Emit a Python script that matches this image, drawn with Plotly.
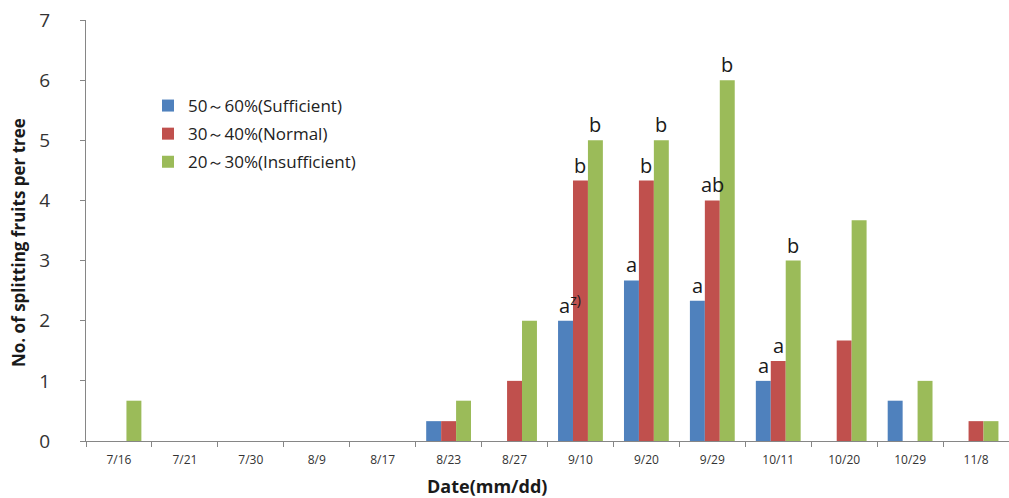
import plotly.graph_objects as go

dates = ["7/16", "7/21", "7/30", "8/9", "8/17", "8/23", "8/27", "9/10", "9/20", "9/29", "10/11", "10/20", "10/29", "11/8"]
sufficient = [0, 0, 0, 0, 0, 0.33, 0, 2.0, 2.67, 2.33, 1.0, 0, 0.67, 0]
normal = [0, 0, 0, 0, 0, 0.33, 1.0, 4.33, 4.33, 4.0, 1.33, 1.67, 0, 0.33]
insufficient = [0.67, 0, 0, 0, 0, 0.67, 2.0, 5.0, 5.0, 6.0, 3.0, 3.67, 1.0, 0.33]
names = ["50～60%(Sufficient)", "30～40%(Normal)", "20～30%(Insufficient)"]
colors = ["#4F81BD", "#C0504D", "#9BBB59"]

# significance letters: (date, series index, label)
letters = [
    ("9/10", 0, "a<sup>z)</sup>"), ("9/10", 1, "b"), ("9/10", 2, "b"),
    ("9/20", 0, "a"), ("9/20", 1, "b"), ("9/20", 2, "b"),
    ("9/29", 0, "a"), ("9/29", 1, "ab"), ("9/29", 2, "b"),
    ("10/11", 0, "a"), ("10/11", 1, "a"), ("10/11", 2, "b"),
]

series = [sufficient, normal, insufficient]
fig = go.Figure()
for i, (nm, vals, c) in enumerate(zip(names, series, colors)):
    fig.add_trace(go.Bar(x=dates, y=vals, name=nm, legendgroup=f"g{i}",
                         marker=dict(color=c, line=dict(width=0))))

L, R, T, B = 86, 0, 20, 57
W, H = 1009, 498
plot_w = W - L - R
cat_w = plot_w / len(dates)
bargap = 0.32
bar_w = cat_w * (1 - bargap) / 3

for d, si, lab in letters:
    v = series[si][dates.index(d)]
    fig.add_annotation(x=d, y=v, text=lab, showarrow=False, xanchor="center", yanchor="bottom",
                       xshift=(si - 1) * bar_w + (4 if "sup" in lab else 0), yshift=0,
                       font=dict(size=20, color="#1a1a1a", family="Open Sans"))

fig.add_annotation(xref="paper", yref="paper", x=(487 - L) / plot_w, y=0, yshift=-45, text="<b>Date(mm/dd)</b>",
                   showarrow=False, xanchor="center", yanchor="middle",
                   font=dict(size=18, color="#1a1a1a", family="Open Sans"))
fig.add_annotation(xref="paper", yref="paper", x=0, xshift=-68, y=(441 - 243) / (441 - 20),
                   text="<b>No. of splitting fruits per tree</b>", textangle=-90,
                   showarrow=False, xanchor="center", yanchor="middle",
                   font=dict(size=17, color="#1a1a1a", family="Open Sans"))

fig.update_layout(
    width=W, height=H,
    margin=dict(l=L, r=R, t=T, b=B),
    plot_bgcolor="white", paper_bgcolor="white",
    barmode="group", bargap=bargap, bargroupgap=0,
    font=dict(family="Open Sans", color="#333333"),
    legend=dict(x=(148 - L) / plot_w, y=(441 - 88) / (441 - 20), xanchor="left", yanchor="top",
                font=dict(size=17, color="#222222"), bgcolor="rgba(0,0,0,0)", traceorder="grouped",
                tracegroupgap=3, itemwidth=30),
    xaxis=dict(type="category", showline=True, linecolor="#868686", linewidth=1,
               ticks="outside", tickson="boundaries", ticklen=5, tickcolor="#868686",
               ticklabelstandoff=8,
               tickfont=dict(size=12, color="#333333"), showgrid=False, zeroline=False),
    yaxis=dict(range=[0, 7], dtick=1, showline=True, linecolor="#868686", linewidth=1,
               ticks="outside", ticklen=5, tickcolor="#868686", ticklabelstandoff=26,
               tickfont=dict(size=19, color="#333333"), showgrid=False, zeroline=False),
)

fig.write_html("out.html")
